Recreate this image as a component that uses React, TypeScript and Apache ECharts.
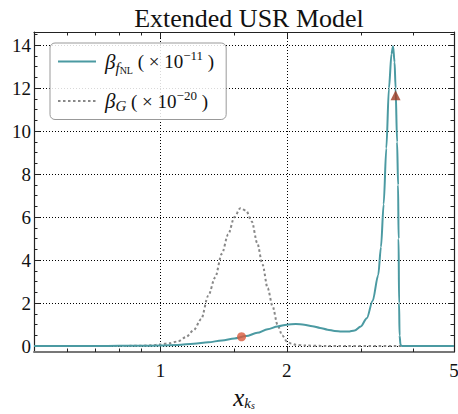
import React, { useEffect, useRef } from 'react';
import * as echarts from 'echarts';

// beta_fNL (x 1e-11) curve
const fnlX = [0.5, 0.6, 0.7, 0.8, 0.9, 1.0, 1.1, 1.2, 1.3, 1.4, 1.5, 1.6, 1.7, 1.8, 1.9, 2.0, 2.1, 2.2, 2.3, 2.4, 2.5, 2.6, 2.7, 2.8, 2.9, 3.0, 3.1, 3.2, 3.3, 3.35, 3.4, 3.45, 3.5, 3.55, 3.58, 3.61, 3.63, 3.66, 3.68, 3.69, 3.7, 3.71, 3.73, 3.76, 3.8, 4.0, 4.5, 5.0];
const fnlY = [0.01, 0.01, 0.01, 0.015, 0.02, 0.03, 0.06, 0.11, 0.18, 0.27, 0.36, 0.47, 0.62, 0.79, 0.92, 1.0, 1.03, 1.0, 0.93, 0.85, 0.77, 0.71, 0.68, 0.68, 0.73, 0.92, 1.3, 2.1, 3.3, 4.6, 6.6, 9.2, 12.0, 13.6, 13.95, 13.2, 12.0, 9.5, 7.5, 5.0, 2.0, 0.5, 0.05, 0.01, 0.01, 0.01, 0.01, 0.01];

// beta_G (x 1e-20) curve
const gX = [0.5, 0.8, 0.9, 0.95, 1.0, 1.05, 1.1, 1.15, 1.2, 1.25, 1.3, 1.35, 1.4, 1.45, 1.5, 1.55, 1.6, 1.65, 1.7, 1.75, 1.8, 1.85, 1.9, 1.95, 2.0, 2.05, 2.1, 2.2, 2.5, 5.0];
const gY = [0.01, 0.01, 0.02, 0.04, 0.08, 0.14, 0.22, 0.42, 0.75, 1.25, 2.35, 3.2, 4.3, 5.2, 6.0, 6.42, 6.3, 5.8, 4.8, 3.8, 2.7, 1.85, 1.0, 0.5, 0.22, 0.12, 0.07, 0.03, 0.01, 0.01];

const circlePoint = [1.56, 0.44];
const trianglePoint = [3.63, 11.67];

const xMajorTicks = [1, 2, 5];
const xMinorTicks = [0.6, 0.7, 0.8, 0.9, 1.5, 3, 4];
const yMajorTicks = [0, 2, 4, 6, 8, 10, 12, 14];
const yMinorTicks = [0.5, 1, 1.5, 2.5, 3, 3.5, 4.5, 5, 5.5, 6.5, 7, 7.5, 8.5, 9, 9.5, 10.5, 11, 11.5, 12.5, 13, 13.5, 14.5];

const X_MIN = 0.5;
const X_MAX = 5;
const Y_MIN = -0.27;
const Y_MAX = 14.61;

const NAME_FNL = 'beta_fNL';
const NAME_G = 'beta_G';

const SERIF = "'Liberation Serif', 'DejaVu Serif', serif";
const lg = (v: number) => Math.log10(v);

export default function App() {
  const ref = useRef<HTMLDivElement>(null);
  useEffect(() => {
    if (!ref.current) return;
    const chart = echarts.init(ref.current, undefined, { renderer: 'svg' });
    const xmin = lg(X_MIN);
    const xmax = lg(X_MAX);
    const dark = '#222';
    const xAxisBase = (pos: 'top' | 'bottom') => ({
      type: 'value' as const,
      position: pos,
      min: xmin,
      max: xmax,
      gridIndex: 0,
    });
    const yAxisBase = (pos: 'left' | 'right') => ({
      type: 'value' as const,
      position: pos,
      min: Y_MIN,
      max: Y_MAX,
      gridIndex: 0,
    });
    const gridLine = { show: true, lineStyle: { color: '#000', width: 1, type: [1, 2] } };
    const option: any = {
      animation: false,
      backgroundColor: '#fff',
      title: {
        text: 'Extended USR Model',
        left: 244,
        textAlign: 'center',
        top: 0,
        textStyle: { fontFamily: SERIF, fontSize: 26, fontWeight: 'normal', color: '#111' },
      },
      grid: { left: 34, right: 4, top: 32, bottom: 62, outerBoundsMode: 'none', containLabel: false },
      legend: {
        orient: 'vertical',
        left: 50,
        top: 43,
        data: [NAME_FNL, NAME_G],
        itemWidth: 38,
        itemHeight: 14,
        itemGap: 13,
        padding: [6, 12, 6, 7],
        backgroundColor: 'rgba(255,255,255,0.85)',
        borderColor: '#999',
        borderWidth: 1,
        borderRadius: 5,
        itemStyle: { opacity: 0 },
        formatter: (name: string) =>
          name === NAME_FNL
            ? '{b|β}{s|f}{ss|NL}{t| ( × 10}{sup|−11}{t| )}'
            : '{b|β}{s2|G}{t| ( × 10}{sup|−20}{t| )}',
        textStyle: {
          fontFamily: SERIF,
          color: '#111',
          padding: [0, 0, 0, 4],
          rich: {
            b: { fontFamily: SERIF, fontStyle: 'italic', fontSize: 21, color: '#111', lineHeight: 29 },
            s: { fontFamily: SERIF, fontStyle: 'italic', fontSize: 15, color: '#111', padding: [12, 0, 0, 0] },
            s2: { fontFamily: SERIF, fontStyle: 'italic', fontSize: 15, color: '#111', padding: [10, 0, 0, 0] },
            ss: { fontFamily: SERIF, fontSize: 10, color: '#111', padding: [18, 0, 0, 0] },
            t: { fontFamily: SERIF, fontSize: 19, color: '#111' },
            sup: { fontFamily: SERIF, fontSize: 13, color: '#111', padding: [0, 0, 12, 0] },
          },
        },
      },
      xAxis: [
        {
          ...xAxisBase('bottom'),
          axisLine: { show: true, onZero: false, lineStyle: { color: '#777', width: 2 } },
          axisTick: { show: true, inside: true, length: 6, customValues: xMajorTicks.map(lg), lineStyle: { color: dark, width: 1 } },
          axisLabel: {
            show: true,
            customValues: xMajorTicks.map(lg),
            formatter: (v: number) => String(Math.round(Math.pow(10, v))),
            fontFamily: SERIF,
            fontSize: 19,
            color: '#111',
            margin: 9,
          },
          splitLine: gridLine,
          name: '{x|x}{k|k}{s|s}',
          nameLocation: 'middle',
          nameGap: 29,
          nameTextStyle: {
            rich: {
              x: { fontFamily: SERIF, fontStyle: 'italic', fontSize: 25, color: '#111' },
              k: { fontFamily: SERIF, fontStyle: 'italic', fontSize: 15, color: '#111', padding: [11, 0, 0, 0] },
              s: { fontFamily: SERIF, fontStyle: 'italic', fontSize: 10, color: '#111', padding: [17, 0, 0, 0] },
            },
          },
        },
        {
          ...xAxisBase('bottom'),
          axisLine: { show: false, onZero: false },
          axisTick: { show: true, inside: true, length: 3.5, customValues: xMinorTicks.map(lg), lineStyle: { color: dark, width: 1 } },
          axisLabel: { show: false },
          splitLine: { show: false },
        },
        {
          ...xAxisBase('top'),
          axisLine: { show: true, onZero: false, lineStyle: { color: dark, width: 1.2 } },
          axisTick: { show: true, inside: true, length: 6, customValues: xMajorTicks.map(lg), lineStyle: { color: dark, width: 1 } },
          axisLabel: { show: false },
          splitLine: { show: false },
        },
        {
          ...xAxisBase('top'),
          axisLine: { show: false, onZero: false },
          axisTick: { show: true, inside: true, length: 3.5, customValues: xMinorTicks.map(lg), lineStyle: { color: dark, width: 1 } },
          axisLabel: { show: false },
          splitLine: { show: false },
        },
      ],
      yAxis: [
        {
          ...yAxisBase('left'),
          axisLine: { show: true, onZero: false, lineStyle: { color: dark, width: 1.2 } },
          axisTick: { show: true, inside: true, length: 6, customValues: yMajorTicks, lineStyle: { color: dark, width: 1 } },
          axisLabel: {
            show: true,
            customValues: yMajorTicks,
            fontFamily: SERIF,
            fontSize: 19,
            color: '#111',
            margin: 3,
          },
          splitLine: gridLine,
        },
        {
          ...yAxisBase('left'),
          axisLine: { show: false, onZero: false },
          axisTick: { show: true, inside: true, length: 3.5, customValues: yMinorTicks, lineStyle: { color: dark, width: 1 } },
          axisLabel: { show: false },
          splitLine: { show: false },
        },
        {
          ...yAxisBase('right'),
          axisLine: { show: true, onZero: false, lineStyle: { color: dark, width: 1.2 } },
          axisTick: { show: true, inside: true, length: 6, customValues: yMajorTicks, lineStyle: { color: dark, width: 1 } },
          axisLabel: { show: false },
          splitLine: { show: false },
        },
        {
          ...yAxisBase('right'),
          axisLine: { show: false, onZero: false },
          axisTick: { show: true, inside: true, length: 3.5, customValues: yMinorTicks, lineStyle: { color: dark, width: 1 } },
          axisLabel: { show: false },
          splitLine: { show: false },
        },
      ],
      series: [
        {
          name: NAME_G,
          type: 'line',
          xAxisIndex: 0,
          yAxisIndex: 0,
          data: gX.map((x, i) => [lg(x), gY[i]]),
          showSymbol: false,
          symbol: 'none',
          smooth: 0.3,
          smoothMonotone: 'x',
          color: '#888',
          lineStyle: { color: '#888', width: 2, type: [2.5, 2.5] },
          z: 3,
        },
        {
          name: NAME_FNL,
          type: 'line',
          xAxisIndex: 0,
          yAxisIndex: 0,
          data: fnlX.map((x, i) => [lg(x), fnlY[i]]),
          showSymbol: false,
          symbol: 'none',
          smooth: 0.3,
          smoothMonotone: 'x',
          color: '#4b9aa2',
          lineStyle: { color: '#4b9aa2', width: 2 },
          z: 4,
        },
        {
          name: 'circle',
          type: 'scatter',
          xAxisIndex: 0,
          yAxisIndex: 0,
          data: [[lg(circlePoint[0]), circlePoint[1]]],
          symbol: 'circle',
          symbolSize: 9,
          itemStyle: { color: '#d95a3c' },
          z: 5,
        },
        {
          name: 'triangle',
          type: 'scatter',
          xAxisIndex: 0,
          yAxisIndex: 0,
          data: [[lg(trianglePoint[0]), trianglePoint[1]]],
          symbol: 'triangle',
          symbolSize: 10,
          itemStyle: { color: '#9e3a22' },
          z: 5,
        },
      ],
    };
    chart.setOption(option);
    return () => chart.dispose();
  }, []);
  return <div ref={ref} style={{ position: 'fixed', left: 0, top: 0, width: 458, height: 414 }} />;
}
